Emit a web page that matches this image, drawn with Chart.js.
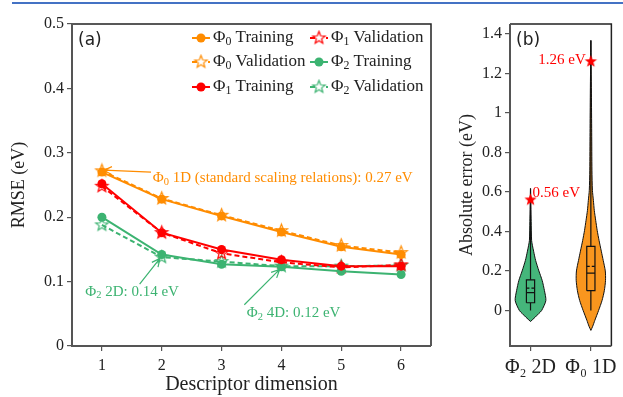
<!DOCTYPE html>
<html>
<head>
<meta charset="utf-8">
<script src="https://cdn.jsdelivr.net/npm/chart.js@4.4.1/dist/chart.umd.min.js"></script>
<style>
  html, body { margin: 0; padding: 0; background: #fff; }
  #wrap { position: relative; width: 623px; height: 397px; overflow: hidden; }
  #topline { position: absolute; left: 12px; top: 2px; width: 611px; height: 2px; background: #4472c4; }
  #boxA { position: absolute; left: 0; top: 0; width: 440px; height: 397px; }
  #boxB { position: absolute; left: 440px; top: 0; width: 183px; height: 397px; }
</style>
</head>
<body>
<div id="wrap">
  <div id="topline"></div>
  <div id="boxA"><canvas id="rmseChart" width="440" height="397"></canvas></div>
  <div id="boxB"><canvas id="errChart" width="183" height="397"></canvas></div>
</div>
<script>
// ---- panel (a) data ----
const dims = [1, 2, 3, 4, 5, 6];
const rmseTicks = [0, 0.1, 0.2, 0.3, 0.4, 0.5];
const phi0Train = [0.270, 0.228, 0.202, 0.177, 0.154, 0.142];
const phi0Valid = [0.272, 0.229, 0.203, 0.179, 0.156, 0.145];
const phi1Train = [0.252, 0.176, 0.150, 0.134, 0.124, 0.124];
const phi1Valid = [0.248, 0.176, 0.144, 0.130, 0.122, 0.126];
const phi2Train = [0.200, 0.142, 0.127, 0.123, 0.116, 0.111];
const phi2Valid = [0.188, 0.138, 0.131, 0.124, 0.124, 0.125];

// annotations (data coords): text anchor, arrow start, arrow tip
const noteTexts = ["Φ_0 1D (standard scaling relations): 0.27 eV", "Φ_2 2D: 0.14 eV", "Φ_2 4D: 0.12 eV"];
const noteTextX = [1.85, 0.72, 3.42];
const noteTextY = [0.260, 0.084, 0.051];
const noteFromX = [1.82, 1.63, 3.38];
const noteFromY = [0.270, 0.096, 0.064];
const noteToX = [1.03, 1.97, 3.97];
const noteToY = [0.273, 0.136, 0.119];

// ---- panel (b) data ----
const violinLabels = ["Φ₂ 2D", "Φ₀ 1D"];
const errTicks = [0, 0.2, 0.4, 0.6, 0.8, 1, 1.2, 1.4];
// violin outlines: value and half-width (in category units)
const greenViolinY = [-0.056, -0.034, -0.015, 0, 0.05, 0.10, 0.152, 0.20, 0.253, 0.30, 0.33, 0.355, 0.45, 0.617];
const greenViolinW = [0, 0.077, 0.139, 0.185, 0.254, 0.231, 0.193, 0.139, 0.085, 0.051, 0.031, 0.018, 0.011, 0];
const orangeViolinY = [-0.101, -0.08, -0.05, 0, 0.05, 0.10, 0.152, 0.20, 0.253, 0.30, 0.354, 0.405, 0.456, 0.506, 0.557, 0.608, 0.71, 0.90, 1.10, 1.367];
const orangeViolinW = [0, 0.031, 0.066, 0.128, 0.185, 0.223, 0.243, 0.239, 0.205, 0.173, 0.136, 0.105, 0.080, 0.057, 0.042, 0.026, 0.018, 0.014, 0.009, 0];
const boxMin = [0, 0];
const boxQ1 = [0.039, 0.100];
const boxMedian = [0.090, 0.189];
const boxMean = [0.113, 0.223];
const boxQ3 = [0.155, 0.324];
const boxMax = [0.617, 1.367];
const maxErr = [0.56, 1.26];
const maxErrText = ["0.56 eV", "1.26 eV"];

const SERIF = "'Liberation Serif', 'DejaVu Serif', serif";
const SANS = "'DejaVu Sans', sans-serif";
const ORANGE = "#ff8c00";
const RED = "#ff0000";
const GREEN = "#3cb371";

Chart.defaults.font.family = SERIF;
Chart.defaults.color = "#222";

function makeStar(color, outer, inner, filled) {
  const s = Math.ceil(outer * 2 + 4);
  const c = document.createElement("canvas");
  c.width = s; c.height = s;
  const g = c.getContext("2d");
  g.beginPath();
  for (let i = 0; i < 10; i++) {
    const r = i % 2 ? inner : outer;
    const a = -Math.PI / 2 + i * Math.PI / 5;
    g.lineTo(s / 2 + r * Math.cos(a), s / 2 + r * Math.sin(a));
  }
  g.closePath();
  if (filled) { g.fillStyle = color; g.fill(); }
  else { g.strokeStyle = color; g.lineWidth = 1.2; g.stroke(); }
  return c;
}

// text with "_x" subscripts
function richText(ctx, str, x, y, size, color) {
  ctx.fillStyle = color;
  ctx.textBaseline = "middle";
  ctx.textAlign = "left";
  let cx = x;
  for (const p of str.split(/(_.)/)) {
    if (!p) continue;
    if (p[0] === "_" && p.length === 2) {
      ctx.font = (size * 0.7) + "px " + SERIF;
      ctx.fillText(p[1], cx, y + size * 0.25);
      cx += ctx.measureText(p[1]).width;
    } else {
      ctx.font = size + "px " + SERIF;
      ctx.fillText(p, cx, y);
      cx += ctx.measureText(p).width;
    }
  }
  return cx;
}

function arrow(ctx, x1, y1, x2, y2, color) {
  const a = Math.atan2(y2 - y1, x2 - x1);
  ctx.save();
  ctx.strokeStyle = color;
  ctx.lineWidth = 1.2;
  ctx.beginPath();
  ctx.moveTo(x1, y1); ctx.lineTo(x2, y2);
  ctx.moveTo(x2 - 9 * Math.cos(a - 0.45), y2 - 9 * Math.sin(a - 0.45));
  ctx.lineTo(x2, y2);
  ctx.lineTo(x2 - 9 * Math.cos(a + 0.45), y2 - 9 * Math.sin(a + 0.45));
  ctx.stroke();
  ctx.restore();
}

const frame = {
  id: "frame",
  afterDraw(chart, args, opts) {
    const { ctx, chartArea: a } = chart;
    ctx.save();
    ctx.strokeStyle = "#222";
    ctx.lineWidth = 1.5;
    ctx.beginPath();
    ctx.moveTo(a.left, a.top); ctx.lineTo(a.right, a.top); ctx.lineTo(a.right, a.bottom);
    ctx.stroke();
    ctx.strokeStyle = "#555";
    ctx.lineWidth = 2;
    ctx.beginPath();
    ctx.moveTo(a.left, a.top); ctx.lineTo(a.left, a.bottom); ctx.lineTo(a.right, a.bottom);
    ctx.stroke();
    ctx.font = "17px " + SANS;
    ctx.fillStyle = "#222";
    ctx.textBaseline = "middle";
    ctx.textAlign = "left";
    ctx.fillText(opts.tag, a.left + 6, a.top + 17);
    ctx.restore();
  }
};

const tickFmt = v => String(+v.toFixed(1));

// ---- panel (a) ----
const pts = arr => arr.map((v, i) => ({ x: dims[i], y: v }));
const starOrange = makeStar(ORANGE, 6.5, 2.8, false);
const starRed = makeStar(RED, 6.5, 2.8, false);
const starGreen = makeStar(GREEN, 6.5, 2.8, false);

function trainSet(label, arr, color) {
  return { label, data: pts(arr), borderColor: color, backgroundColor: color, borderWidth: 2,
    pointRadius: 4.5, pointBorderWidth: 0, pointBackgroundColor: color, order: 1 };
}
function validSet(label, arr, color, star) {
  return { label, data: pts(arr), borderColor: color, backgroundColor: color, borderWidth: 2,
    borderDash: [5, 3], pointStyle: star, pointRadius: 7, order: 2 };
}

const legendA = {
  id: "legendA",
  afterDraw(chart) {
    const { ctx, chartArea: a } = chart;
    const rows = [14, 38, 63];
    ctx.save();
    chart.data.datasets.forEach((ds, i) => {
      const col = Math.floor(i / 3);
      const y = a.top + rows[i % 3];
      const x0 = a.left + (col ? 238 : 120);
      ctx.strokeStyle = ds.borderColor;
      ctx.lineWidth = 2;
      ctx.setLineDash(ds.borderDash || []);
      ctx.beginPath(); ctx.moveTo(x0, y); ctx.lineTo(x0 + 18, y); ctx.stroke();
      ctx.setLineDash([]);
      if (ds.pointStyle && typeof ds.pointStyle !== "string") {
        ctx.fillStyle = "#fff";
        ctx.fillRect(x0 + 5, y - 3, 8, 6);
        ctx.drawImage(ds.pointStyle, x0 + 9 - ds.pointStyle.width / 2, y - ds.pointStyle.height / 2);
      } else {
        ctx.fillStyle = ds.borderColor;
        ctx.beginPath(); ctx.arc(x0 + 9, y, 4.5, 0, Math.PI * 2); ctx.fill();
      }
      richText(ctx, ds.label, x0 + 21, y, 17, "#222");
    });
    ctx.restore();
  }
};

const notesA = {
  id: "notesA",
  afterDatasetsDraw(chart) {
    const { ctx, scales: { x, y } } = chart;
    const colors = [ORANGE, GREEN, GREEN];
    noteTexts.forEach((t, i) => {
      arrow(ctx, x.getPixelForValue(noteFromX[i]), y.getPixelForValue(noteFromY[i]),
        x.getPixelForValue(noteToX[i]), y.getPixelForValue(noteToY[i]), colors[i]);
      richText(ctx, t, x.getPixelForValue(noteTextX[i]), y.getPixelForValue(noteTextY[i]), 15, colors[i]);
    });
  }
};

new Chart(document.getElementById("rmseChart"), {
  type: "line",
  data: {
    datasets: [
      trainSet("Φ_0 Training", phi0Train, ORANGE),
      validSet("Φ_0 Validation", phi0Valid, ORANGE, starOrange),
      trainSet("Φ_1 Training", phi1Train, RED),
      validSet("Φ_1 Validation", phi1Valid, RED, starRed),
      trainSet("Φ_2 Training", phi2Train, GREEN),
      validSet("Φ_2 Validation", phi2Valid, GREEN, starGreen),
    ],
  },
  options: {
    responsive: false,
    animation: false,
    events: [],
    layout: { padding: { top: 24, right: 8, left: 0, bottom: 0 } },
    plugins: { legend: { display: false }, tooltip: { enabled: false }, frame: { tag: "(a)" } },
    scales: {
      x: {
        type: "linear", min: 0.5, max: 6.5,
        afterBuildTicks: s => { s.ticks = dims.map(v => ({ value: v })); },
        afterFit: s => { s.height = 51; },
        border: { display: false },
        grid: { drawOnChartArea: false, tickLength: 5, color: "#555", lineWidth: 1.2 },
        ticks: { font: { size: 16 }, padding: 5, callback: tickFmt },
        title: { display: true, text: "Descriptor dimension", font: { size: 20 }, padding: 0 },
      },
      y: {
        min: 0, max: 0.5,
        afterBuildTicks: s => { s.ticks = rmseTicks.map(v => ({ value: v })); },
        afterFit: s => { s.width = 72; },
        border: { display: false },
        grid: { drawOnChartArea: false, tickLength: 5, color: "#555", lineWidth: 1.2 },
        ticks: { font: { size: 16 }, padding: 3, callback: tickFmt },
        title: { display: true, text: "RMSE (eV)", font: { size: 18 }, padding: { top: 8, bottom: 0 } },
      },
    },
  },
  plugins: [frame, legendA, notesA],
});

// ---- panel (b) ----
function violinSet(k, ys, ws, fill) {
  const right = ys.map((v, i) => ({ x: k + ws[i], y: v }));
  const left = ys.map((v, i) => ({ x: k - ws[i], y: v })).reverse();
  return { type: "line", data: right.concat(left), fill: "shape", backgroundColor: fill,
    borderColor: "#111", borderWidth: 1, pointRadius: 0, tension: 0.25, order: 5 };
}
function boxSets(k) {
  const h = 0.068;
  const base = { type: "line", borderColor: "#111", borderWidth: 1.2, pointRadius: 0, fill: false, order: 3 };
  return [
    { ...base, data: [{ x: k - h, y: boxQ1[k] }, { x: k + h, y: boxQ1[k] }, { x: k + h, y: boxQ3[k] },
      { x: k - h, y: boxQ3[k] }, { x: k - h, y: boxQ1[k] }] },
    { ...base, data: [{ x: k - h, y: boxMedian[k] }, { x: k + h, y: boxMedian[k] }] },
    { ...base, borderDash: [3, 2], data: [{ x: k - h, y: boxMean[k] }, { x: k + h, y: boxMean[k] }] },
    { ...base, spanGaps: false, data: [{ x: k, y: boxMin[k] }, { x: k, y: boxQ1[k] }, { x: k, y: null },
      { x: k, y: boxQ3[k] }, { x: k, y: boxMax[k] }] },
  ];
}

const redStar = makeStar(RED, 6.5, 2.7, true);

const notesB = {
  id: "notesB",
  afterDatasetsDraw(chart) {
    const { ctx, scales: { x, y } } = chart;
    ctx.save();
    ctx.font = "15px " + SERIF;
    ctx.fillStyle = RED;
    ctx.textBaseline = "middle";
    ctx.textAlign = "left";
    ctx.fillText(maxErrText[0], x.getPixelForValue(0) + 2, y.getPixelForValue(maxErr[0]) - 7);
    ctx.textAlign = "right";
    ctx.fillText(maxErrText[1], x.getPixelForValue(1) - 5, y.getPixelForValue(maxErr[1]) - 1);
    ctx.restore();
  }
};

new Chart(document.getElementById("errChart"), {
  type: "line",
  data: {
    datasets: [
      violinSet(0, greenViolinY, greenViolinW, "#45b67b"),
      violinSet(1, orangeViolinY, orangeViolinW, "#f9961e"),
      ...boxSets(0),
      ...boxSets(1),
      { type: "scatter", data: maxErr.map((v, i) => ({ x: i, y: v })), pointStyle: redStar, pointRadius: 7, order: 0 },
    ],
  },
  options: {
    responsive: false,
    animation: false,
    events: [],
    layout: { padding: { top: 24, right: 4, left: 0, bottom: 0 } },
    plugins: { legend: { display: false }, tooltip: { enabled: false }, frame: { tag: "(b)" } },
    scales: {
      x: {
        type: "linear", min: -0.34, max: 1.34,
        afterBuildTicks: s => { s.ticks = violinLabels.map((_, i) => ({ value: i })); },
        afterFit: s => { s.height = 51; },
        border: { display: false },
        grid: { drawOnChartArea: false, tickLength: 5, color: "#555", lineWidth: 1.2 },
        ticks: { font: { size: 20 }, padding: 5, callback: v => violinLabels[v] },
      },
      y: {
        min: -0.18, max: 1.45,
        afterBuildTicks: s => { s.ticks = errTicks.map(v => ({ value: v })); },
        afterFit: s => { s.width = 70; },
        border: { display: false },
        grid: { drawOnChartArea: false, tickLength: 5, color: "#555", lineWidth: 1.2 },
        ticks: { font: { size: 16 }, padding: 3, callback: tickFmt },
        title: { display: true, text: "Absolute error (eV)", font: { size: 18 }, padding: { top: 16, bottom: 0 } },
      },
    },
  },
  plugins: [frame, notesB],
});
</script>
</body>
</html>
